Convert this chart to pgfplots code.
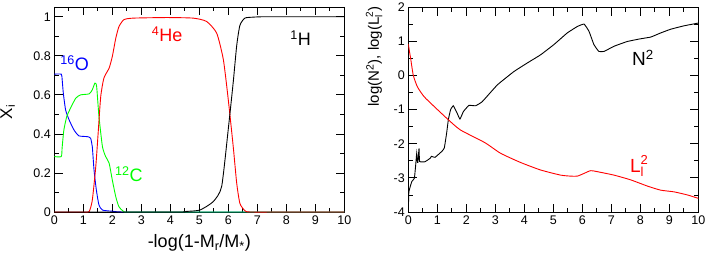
\documentclass[border=0pt]{standalone}
\usepackage{pgfplots}
\pgfplotsset{compat=1.18}
\usepackage{fontspec}
\setmainfont{Liberation Sans}
\definecolor{xblue}{RGB}{0,0,255}
\definecolor{xred}{RGB}{255,0,0}
\definecolor{xgreen}{RGB}{0,255,0}
\pgfplotsset{
  common/.style={
    scale only axis, width=290pt, height=205pt,
    anchor=south west,
    xmin=0, xmax=10,
    xtick={0,1,...,10}, minor x tick num=1,
    tick align=inside,
    major tick length=8.5pt, minor tick length=4.5pt,
    axis line style={line width=0.8pt},
    every tick/.style={line width=0.8pt, black},
    /pgf/number format/assume math mode=true,
    tick label style={font=\fontsize{12.5}{14}\selectfont},
    label style={font=\fontsize{17}{20}\selectfont},
    every axis plot/.append style={line width=0.9pt, mark=none, smooth, tension=0.35},
  }
}
\newcommand{\Lsq}[1]{$\mbox{L}_{\mbox{\fontsize{#1}{#1}\selectfont l}}^{\mbox{\fontsize{#1}{#1}\selectfont 2}}$}
\begin{document}
\begin{tikzpicture}
\begin{axis}[common, at={(54.3pt,45pt)},
  ymin=0, ymax=1.05,
  ytick={0,0.2,...,1.0}, minor y tick num=1,
  yticklabels={0,0.2,0.4,0.6,0.8,1},
  xlabel={-log(1-M\textsubscript{r}/M\textsubscript{*})},
  ylabel={X\textsubscript{i}},
  xlabel style={font=\fontsize{18}{20}\selectfont, at={(axis description cs:0.5,-0.151)}, anchor=center},
  ylabel style={at={(axis description cs:-0.161,0.488)}, anchor=center},
]
% O16
\addplot[xblue] coordinates {(0,0.706)(0.24,0.706)(0.27,0.68)(0.31,0.61)(0.39,0.523)(0.51,0.472)(0.68,0.42)(0.85,0.39)(1.14,0.386)(1.25,0.378)(1.31,0.335)(1.37,0.215)(1.45,0.113)(1.54,0.036)(1.66,0.01)(2.0,0.004)(2.4,0)(5,0)(10,0)};
% C12
\addplot[xgreen] coordinates {(0,0.284)(0.24,0.284)(0.27,0.33)(0.33,0.42)(0.43,0.489)(0.56,0.532)(0.74,0.583)(0.91,0.60)(1.2,0.605)(1.31,0.626)(1.40,0.66)(1.46,0.643)(1.54,0.489)(1.66,0.335)(1.77,0.284)(1.89,0.25)(2.0,0.164)(2.12,0.078)(2.23,0.027)(2.4,0.002)(2.6,0)(5,0)(10,0)};
% He4
\addplot[xred] coordinates {(0,0)(1.0,0)(1.2,0.002)(1.31,0.06)(1.43,0.232)(1.51,0.40)(1.6,0.59)(1.71,0.686)(1.89,0.737)(2.0,0.796)(2.12,0.89)(2.23,0.95)(2.4,0.985)(2.72,0.993)(3.87,0.996)(4.79,0.993)(5.25,0.976)(5.6,0.916)(5.83,0.78)(6.0,0.574)(6.17,0.335)(6.29,0.147)(6.4,0.044)(6.57,0.007)(6.75,0)(8,0)(10,0)};
% H1
\addplot[black] coordinates {(0,0)(3,0)(4.4,0)(4.56,0.003)(5.02,0.01)(5.48,0.053)(5.77,0.13)(6.0,0.426)(6.17,0.665)(6.29,0.853)(6.4,0.956)(6.57,0.993)(6.86,0.998)(7.2,1.0)(8.5,1.0)(10,1.0)};
\node[xblue, anchor=base west, inner sep=0, font=\fontsize{18}{20}\selectfont] at (axis cs:0.2,0.725) {\textsuperscript{16}O};
\node[xred, anchor=base west, inner sep=0, font=\fontsize{18}{20}\selectfont] at (axis cs:3.36,0.873) {\textsuperscript{4}He};
\node[black, anchor=base west, inner sep=0, font=\fontsize{18}{20}\selectfont] at (axis cs:8.13,0.853) {\textsuperscript{1}H};
\node[xgreen, anchor=base west, inner sep=0, font=\fontsize{18}{20}\selectfont] at (axis cs:2.09,0.155) {\textsuperscript{12}C};
\end{axis}
\begin{axis}[common, at={(408.3pt,45pt)},
  ymin=-4, ymax=2,
  ytick={-4,-3,...,2}, minor y tick num=1,
  ylabel={log(N\textsuperscript{2}), log(\Lsq{10})},
  ylabel style={font=\fontsize{15}{18}\selectfont, at={(axis description cs:-0.118,0.759)}, anchor=center},
]
% N^2
\addplot[black, tension=0.2] coordinates {(0,-4)(0.02,-3.41)(0.12,-3.11)(0.21,-3.01)(0.26,-2.57)(0.29,-2.28)(0.31,-2.52)(0.33,-2.55)(0.37,-2.14)(0.39,-2.52)(0.57,-2.53)(0.75,-2.43)(0.8,-2.37)(0.92,-2.40)(1.15,-2.23)(1.24,-2.13)(1.32,-1.70)(1.38,-1.30)(1.46,-1.0)(1.55,-0.89)(1.67,-1.08)(1.78,-1.28)(1.9,-1.06)(2.09,-0.88)(2.32,-0.89)(2.55,-0.77)(3.07,-0.28)(3.64,0.11)(4.10,0.36)(4.56,0.60)(5.02,0.90)(5.48,1.24)(5.83,1.43)(6.06,1.50)(6.23,1.29)(6.4,0.90)(6.57,0.70)(6.75,0.70)(7.09,0.85)(7.55,0.99)(8.01,1.07)(8.36,1.12)(8.7,1.24)(9.05,1.35)(9.51,1.45)(10,1.53)};
% L^2
\addplot[xred] coordinates {(0,0.92)(0.04,0.7)(0.08,0.5)(0.17,0.01)(0.31,-0.33)(0.54,-0.62)(0.89,-0.91)(1.38,-1.30)(1.80,-1.60)(2.64,-1.97)(3.18,-2.28)(3.87,-2.55)(4.56,-2.77)(5.25,-2.92)(5.6,-2.95)(5.83,-2.95)(6.06,-2.87)(6.29,-2.79)(6.52,-2.82)(7.09,-2.92)(7.67,-3.06)(8.24,-3.24)(8.7,-3.36)(9.16,-3.41)(9.62,-3.50)(10,-3.60)};
\node[black, anchor=base west, inner sep=0, font=\fontsize{19}{21}\selectfont] at (axis cs:7.71,0.29) {N\textsuperscript{2}};
\node[xred, anchor=base west, inner sep=0, font=\fontsize{19}{21}\selectfont] at (axis cs:7.64,-2.83) {\Lsq{13}};
\end{axis}
\pgfresetboundingbox
\useasboundingbox (0,0) rectangle (708pt,257pt);
\end{tikzpicture}
\end{document}
